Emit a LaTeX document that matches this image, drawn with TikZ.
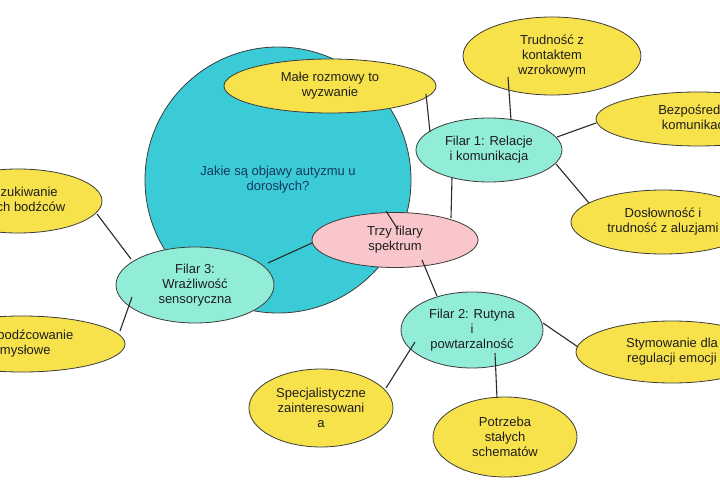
\documentclass[tikz,border=0pt]{standalone}
\usepackage{fontspec}
\setmainfont{Liberation Sans}
\usetikzlibrary{shapes.geometric}
\definecolor{cyanb}{HTML}{3ACBD7}
\definecolor{yel}{HTML}{F8E24C}
\definecolor{mint}{HTML}{92EDD8}
\definecolor{rose}{HTML}{F8C6CB}
\definecolor{outl}{HTML}{3C3C3C}
\definecolor{navy}{HTML}{17395C}
\definecolor{txt}{HTML}{1E1E1E}
\definecolor{linec}{HTML}{2A2A2A}
\begin{document}
\begin{tikzpicture}[x=1pt,y=-1pt,
  bub/.style={ellipse,draw=outl,line width=0.8pt,inner sep=0pt,outer sep=0pt,
              align=center,text=txt,font=\fontsize{13}{15}\selectfont},
  sz/.style 2 args={minimum width=#1,minimum height=#2},
  yb/.style={bub,fill=yel},
  mb/.style={bub,fill=mint},
  pb/.style={bub,fill=rose},
  link/.style={draw=linec,line width=1.1pt}]
\useasboundingbox (0,0) rectangle (720,500);
\clip (0,0) rectangle (720,500);
\fill[white] (0,0) rectangle (720,500);

% central question
\node[bub,fill=cyanb,text=navy,sz={266pt}{266pt}] (q) at (278,180) {Jakie są objawy autyzmu u\\dorosłych?};

% nodes
\node[yb,sz={212pt}{54pt}] (male) at (330,86) {Małe rozmowy to\\wyzwanie};
\node[yb,sz={178pt}{78pt}] (trud) at (552,56) {Trudność z\\kontaktem\\wzrokowym};
\node[yb,sz={204pt}{54pt}] (bezp) at (698,119) {Bezpośrednia\\komunikacja};
\node[mb,sz={146pt}{64pt}] (f1) at (489,150) {Filar 1: Relacje\\i komunikacja};
\node[yb,sz={184pt}{64pt}] (dosl) at (663,222) {Dosłowność i\\trudność z aluzjami};
\node[pb,sz={166pt}{55pt}] (pink) at (395,240) {Trzy filary\\spektrum};
\node[mb,sz={158pt}{76pt}] (f3) at (195,285) {Filar 3:\\Wrażliwość\\sensoryczna};
\node[yb,sz={168pt}{64pt}] (posz) at (18,201) {Poszukiwanie\\silnych bodźców};
\node[yb,sz={206pt}{56pt}] (przeb) at (22,344) {Przebodźcowanie\\zmysłowe};
\node[mb,sz={142pt}{76pt}] (f2) at (472,330) {Filar 2: Rutyna\\i\\powtarzalność};
\node[yb,sz={192pt}{62pt}] (stym) at (672,352) {Stymowanie dla\\regulacji emocji};
\node[yb,sz={144pt}{80pt}] (potrz) at (505,437) {Potrzeba\\stałych\\schematów};
\node[yb,sz={144pt}{78pt}] (spec) at (321,408) {Specjalistyczne\\zainteresowani\\a};

% connector end points
\coordinate (male-a) at (426,94);   \coordinate (f1-male) at (430,132);
\coordinate (trud-a) at (508,77);   \coordinate (f1-trud) at (511,120);
\coordinate (f1-bezp) at (557,137); \coordinate (bezp-a) at (596,123);
\coordinate (f1-dosl) at (556,164); \coordinate (dosl-a) at (589,203);
\coordinate (f1-pink) at (452,178); \coordinate (pink-f1) at (451,218);
\coordinate (pink-q) at (386,211);  \coordinate (q-pink) at (397,228);
\coordinate (pink-f3) at (312,243); \coordinate (f3-pink) at (268,263);
\coordinate (pink-f2) at (422,260); \coordinate (f2-pink) at (437,296);
\coordinate (f2-stym) at (543,323); \coordinate (stym-a) at (578,347);
\coordinate (f2-potrz) at (495,353);\coordinate (potrz-a) at (497,398);
\coordinate (f2-spec) at (415,342); \coordinate (spec-a) at (386,388);
\coordinate (posz-a) at (97,214);   \coordinate (f3-posz) at (131,259);
\coordinate (f3-przeb) at (132,297);\coordinate (przeb-a) at (120,331);

% connectors
\draw[link] (male-a) -- (f1-male);
\draw[link] (trud-a) -- (f1-trud);
\draw[link] (f1-bezp) -- (bezp-a);
\draw[link] (f1-dosl) -- (dosl-a);
\draw[link] (f1-pink) -- (pink-f1);
\draw[link] (pink-q) -- (q-pink);
\draw[link] (pink-f3) -- (f3-pink);
\draw[link] (pink-f2) -- (f2-pink);
\draw[link] (f2-stym) -- (stym-a);
\draw[link] (f2-potrz) -- (potrz-a);
\draw[link] (f2-spec) -- (spec-a);
\draw[link] (posz-a) -- (f3-posz);
\draw[link] (f3-przeb) -- (przeb-a);
\end{tikzpicture}
\end{document}
